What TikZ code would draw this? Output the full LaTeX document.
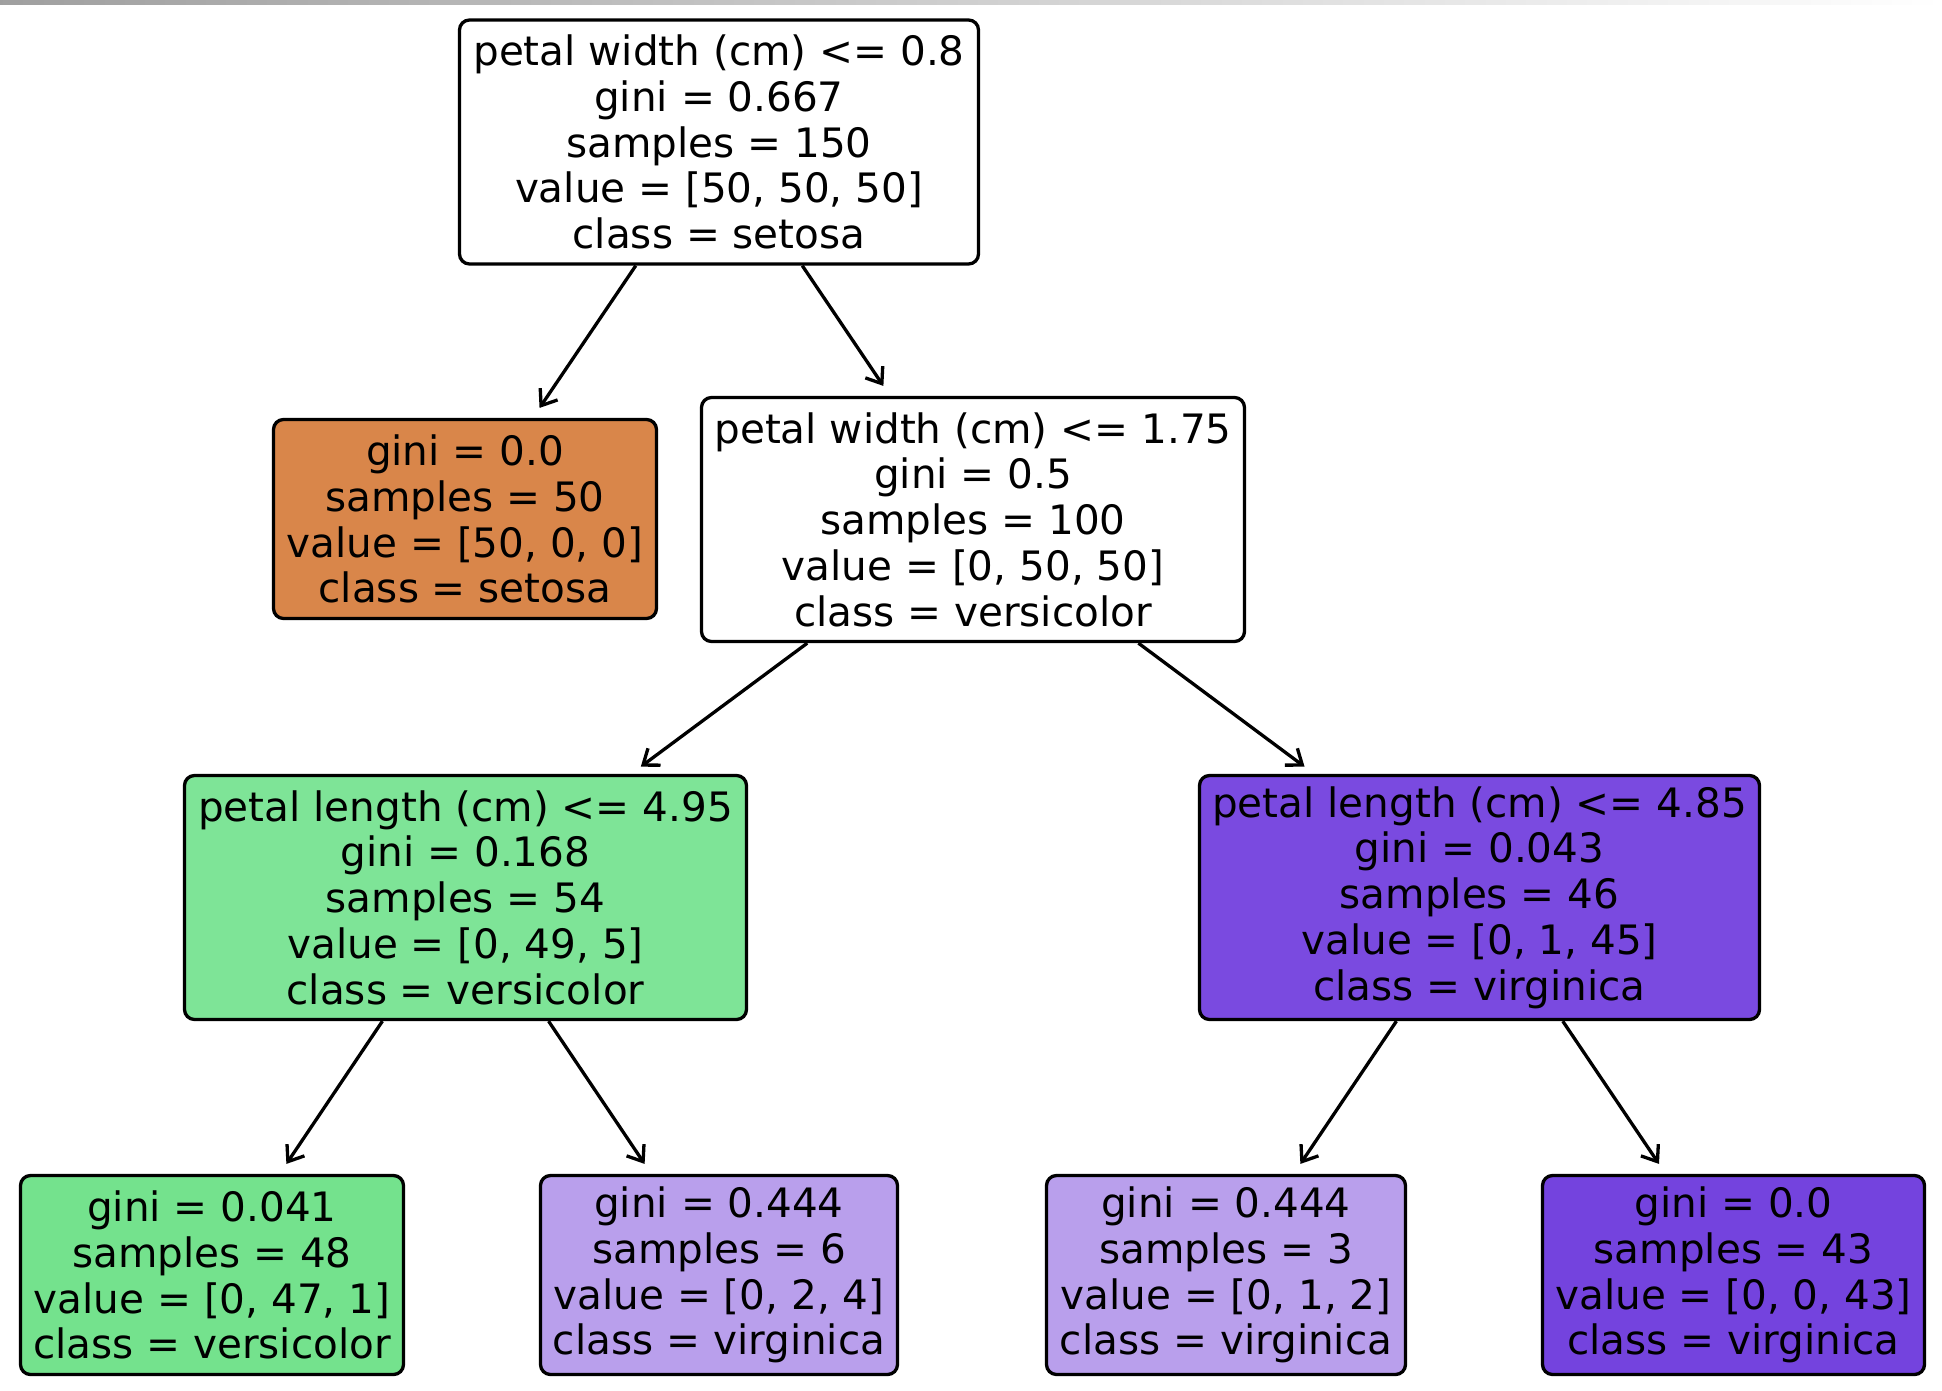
\documentclass[tikz,border=0pt]{standalone}
\usepackage{fontspec}
\setmainfont{DejaVu Sans}
\usetikzlibrary{arrows.meta}

\definecolor{setosacol}{RGB}{217,134,74}
\definecolor{versileaf}{RGB}{116,226,141}
\definecolor{versinode}{RGB}{126,228,151}
\definecolor{virglight}{RGB}{185,159,236}
\definecolor{virgnode}{RGB}{122,74,224}
\definecolor{virgleaf}{RGB}{116,67,222}

\tikzset{
  treenode/.style={draw=black, line width=3.3pt, rounded corners=10pt, align=center,
    inner sep=0pt, font=\fontsize{40.5}{45.8}\selectfont, minimum height=244pt},
  leafnode/.style={treenode, minimum height=199pt},
  splitarrow/.style={line width=3.3pt, -{Straight Barb[length=14pt,width=21pt]}, shorten >=12pt},
}

\begin{document}
\begin{tikzpicture}[x=1pt,y=-1pt]
\useasboundingbox (0,0) rectangle (1942,1390);
\fill[white] (0,0) rectangle (1942,1390);
\shade[left color=gray!75, right color=white] (0,0) rectangle (1942,4);

\node[treenode, fill=white, minimum width=519pt] (root) at (719,142)
  {petal width (cm) <= 0.8\\ gini = 0.667\\ samples = 150\\ value = [50, 50, 50]\\ class = setosa};
\node[leafnode, fill=setosacol, minimum width=383pt] (setosa) at (465,519)
  {gini = 0.0\\ samples = 50\\ value = [50, 0, 0]\\ class = setosa};
\node[treenode, fill=white, minimum width=543pt] (split2) at (973,519.5)
  {petal width (cm) <= 1.75\\ gini = 0.5\\ samples = 100\\ value = [0, 50, 50]\\ class = versicolor};
\node[treenode, fill=versinode, minimum width=562pt] (split3) at (465.5,897.5)
  {petal length (cm) <= 4.95\\ gini = 0.168\\ samples = 54\\ value = [0, 49, 5]\\ class = versicolor};
\node[treenode, fill=virgnode, minimum width=560pt] (split4) at (1479.5,897.5)
  {petal length (cm) <= 4.85\\ gini = 0.043\\ samples = 46\\ value = [0, 1, 45]\\ class = virginica};

\node[leafnode, fill=versileaf, minimum width=383pt] (leafa) at (212,1275)
  {gini = 0.041\\ samples = 48\\ value = [0, 47, 1]\\ class = versicolor};
\node[leafnode, fill=virglight, minimum width=357pt] (leafb) at (719,1275)
  {gini = 0.444\\ samples = 6\\ value = [0, 2, 4]\\ class = virginica};
\node[leafnode, fill=virglight, minimum width=359pt] (leafc) at (1226,1275)
  {gini = 0.444\\ samples = 3\\ value = [0, 1, 2]\\ class = virginica};
\node[leafnode, fill=virgleaf, minimum width=382pt] (leafd) at (1733.5,1275)
  {gini = 0.0\\ samples = 43\\ value = [0, 0, 43]\\ class = virginica};

\foreach \a/\b in {root/setosa, root/split2, split2/split3, split2/split4,
  split3/leafa, split3/leafb, split4/leafc, split4/leafd} {
\draw[splitarrow] (\a) -- (\b);
}
\end{tikzpicture}
\end{document}
